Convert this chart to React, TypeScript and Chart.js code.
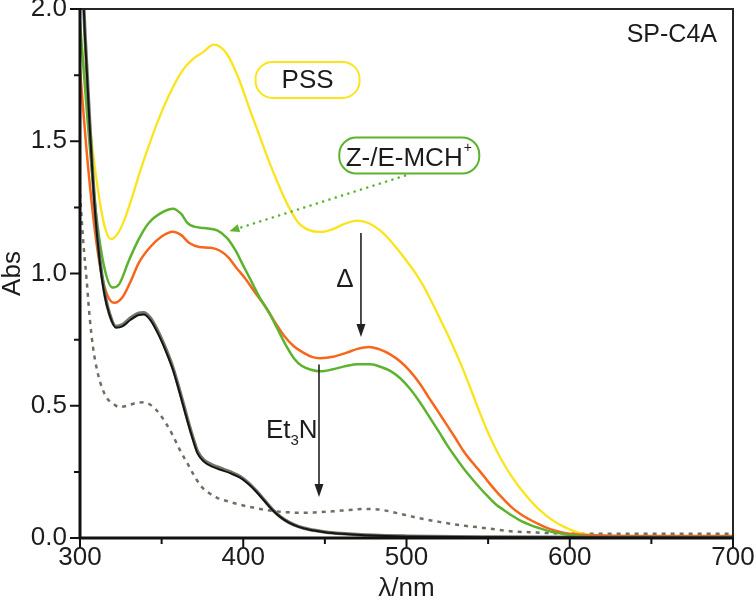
import React, { useEffect, useRef } from 'react';
import { Chart, registerables } from 'chart.js';

Chart.register(...registerables);

const FONT = '"Liberation Sans", Arial, Helvetica, sans-serif';

// ---- axis ticks ----
const xMajorTicks = [300, 400, 500, 600, 700];
const xMinorTicks = [350, 450, 550, 650];
const yMajorTicks = [0, 0.5, 1.0, 1.5, 2.0];
const yMinorTicks = [0.25, 0.75, 1.25, 1.75];

// ---- PSS (yellow) ----
const pssNm = [300, 305, 310, 315, 319, 323, 327, 332, 337, 342, 347, 352, 357, 361, 365, 369, 375, 382, 390, 397, 404, 410, 416, 422, 428, 434, 440, 447, 455, 463, 470, 477, 484, 490, 495, 500, 505, 510, 515, 520, 525, 530, 535, 540, 545, 550, 555, 560, 565, 570, 576, 581, 586, 591, 596, 601, 606, 615, 626, 640, 700];
const pssAbs = [1.93, 1.62, 1.36, 1.18, 1.13, 1.15, 1.2, 1.29, 1.39, 1.48, 1.565, 1.64, 1.705, 1.75, 1.785, 1.81, 1.835, 1.865, 1.83, 1.74, 1.62, 1.52, 1.42, 1.33, 1.25, 1.19, 1.165, 1.157, 1.168, 1.19, 1.2, 1.19, 1.162, 1.125, 1.088, 1.048, 1.006, 0.957, 0.898, 0.836, 0.772, 0.704, 0.632, 0.553, 0.472, 0.398, 0.333, 0.276, 0.227, 0.185, 0.141, 0.109, 0.083, 0.061, 0.044, 0.03, 0.019, 0.009, 0.004, 0.002, 0.001];

// ---- Z-/E-MCH+ (green) ----
const mchNm = [300, 305, 310, 315, 320, 324, 330, 336, 342, 350, 357, 362, 366, 370, 376, 384, 390, 395, 400, 405, 410, 416, 421, 426, 431, 436, 441, 447, 455, 463, 470, 478, 485, 490, 496, 502, 508, 514, 520, 525, 530, 535, 540, 545, 550, 555, 560, 565, 570, 576, 581, 586, 591, 596, 606, 615, 630, 700];
const mchAbs = [1.95, 1.55, 1.22, 1.02, 0.947, 0.96, 1.05, 1.13, 1.19, 1.23, 1.245, 1.225, 1.19, 1.177, 1.172, 1.163, 1.135, 1.09, 1.03, 0.97, 0.91, 0.85, 0.79, 0.73, 0.68, 0.65, 0.637, 0.63, 0.638, 0.65, 0.657, 0.657, 0.645, 0.632, 0.605, 0.565, 0.515, 0.458, 0.4, 0.35, 0.305, 0.263, 0.225, 0.189, 0.156, 0.126, 0.104, 0.083, 0.065, 0.049, 0.038, 0.028, 0.021, 0.015, 0.008, 0.004, 0.002, 0.0];

// ---- after heating (orange) ----
const heatNm = [300, 305, 310, 315, 321, 326, 331, 336, 343, 350, 357, 362, 367, 373, 380, 386, 391, 396, 401, 407, 413, 419, 425, 431, 437, 442, 447, 455, 463, 470, 477, 484, 490, 496, 502, 508, 514, 520, 525, 530, 535, 540, 545, 550, 555, 560, 565, 570, 576, 581, 586, 591, 596, 606, 616, 640, 700];
const heatAbs = [1.77, 1.4, 1.12, 0.95, 0.889, 0.91, 0.97, 1.04, 1.1, 1.14, 1.158, 1.145, 1.115, 1.1, 1.097, 1.085, 1.06, 1.02, 0.983, 0.93, 0.88, 0.82, 0.765, 0.725, 0.7, 0.685, 0.68, 0.685, 0.7, 0.715, 0.722, 0.712, 0.694, 0.668, 0.632, 0.585, 0.528, 0.472, 0.425, 0.377, 0.328, 0.288, 0.252, 0.213, 0.176, 0.143, 0.113, 0.09, 0.068, 0.052, 0.038, 0.028, 0.02, 0.013, 0.01, 0.008, 0.008];

// ---- after Et3N (black and grey traces) ----
const baseNm = [300, 303, 306, 309, 312, 315, 318, 322, 326, 331, 336, 339, 343, 348, 353, 357, 361, 365, 369, 372, 376, 381, 386, 392, 398, 403, 408, 413, 418, 423, 428, 434, 440, 450, 460, 480, 500, 550, 600, 700];
const baseAbsBlack = [2.35, 1.9, 1.55, 1.25, 1.05, 0.92, 0.845, 0.795, 0.8, 0.825, 0.843, 0.845, 0.825, 0.77, 0.7, 0.634, 0.55, 0.46, 0.375, 0.32, 0.288, 0.27, 0.258, 0.245, 0.228, 0.205, 0.175, 0.14, 0.105, 0.078, 0.058, 0.042, 0.032, 0.022, 0.016, 0.009, 0.006, 0.003, 0.002, 0.001];
const baseAbsGrey = [2.35, 1.91, 1.56, 1.26, 1.06, 0.93, 0.85, 0.8, 0.806, 0.832, 0.85, 0.852, 0.832, 0.778, 0.708, 0.642, 0.558, 0.468, 0.382, 0.327, 0.294, 0.276, 0.264, 0.25, 0.233, 0.209, 0.178, 0.142, 0.107, 0.079, 0.059, 0.043, 0.033, 0.023, 0.017, 0.01, 0.007, 0.004, 0.003, 0.002];

// ---- dotted trace ----
const dotNm = [300, 302, 304, 306, 308, 311, 314, 317, 320, 324, 329, 334, 339, 344, 348, 353, 357, 361, 366, 370, 374, 379, 384, 390, 398, 406, 413, 420, 428, 436, 445, 455, 465, 475, 483, 490, 497, 504, 512, 520, 528, 536, 545, 555, 565, 575, 586, 596, 606, 620, 640, 670, 700];
const dotAbs = [1.3, 1.12, 0.98, 0.83, 0.72, 0.62, 0.56, 0.525, 0.51, 0.495, 0.5, 0.51, 0.513, 0.5, 0.475, 0.43, 0.386, 0.335, 0.28, 0.235, 0.197, 0.17, 0.152, 0.14, 0.126, 0.115, 0.107, 0.101, 0.097, 0.095, 0.097, 0.101, 0.106, 0.11, 0.108, 0.1, 0.09, 0.08, 0.07, 0.061, 0.053, 0.046, 0.04, 0.032, 0.025, 0.022, 0.019, 0.017, 0.016, 0.016, 0.016, 0.016, 0.016];

// ---- styles ----
const YELLOW = '#fbe41c';
const ORANGE = '#f7661a';
const GREEN = '#5db32f';
const BLACK = '#151515';
const GREYGREEN = '#6f7868';
const DOTTED = '#6c7164';
const INK = '#1c1c1c';

// annotation layout (data coordinates: nm, Abs)
const pssLabel = { x: 439.4, y: 1.732, w: 104, h: 36 };
const mchLabel = { x: 501.7, y: 1.446, w: 140, h: 36 };
const mchArrow = { x1: 499.1, y1: 1.37, x2: 391.5, y2: 1.16 };
const heatArrow = { x: 472.1, y1: 1.153, y2: 0.76 };
const heatText = { x: 462.3, y: 0.975 };
const baseArrow = { x: 446.4, y1: 0.656, y2: 0.155 };
const baseText = { x: 413.9, y: 0.378 };
const sampleText = { x: 690.2, y: 1.902 };

const pts = (xs: number[], ys: number[]) => xs.map((x, i) => ({ x, y: ys[i] }));

function roundRect(ctx: CanvasRenderingContext2D, x: number, y: number, w: number, h: number, r: number) {
  ctx.beginPath();
  ctx.moveTo(x + r, y);
  ctx.arcTo(x + w, y, x + w, y + h, r);
  ctx.arcTo(x + w, y + h, x, y + h, r);
  ctx.arcTo(x, y + h, x, y, r);
  ctx.arcTo(x, y, x + w, y, r);
  ctx.closePath();
}

function arrow(ctx: CanvasRenderingContext2D, x1: number, y1: number, x2: number, y2: number, color: string, width: number, dotted: boolean, headLen: number, headW: number) {
  const ang = Math.atan2(y2 - y1, x2 - x1);
  const bx = x2 - Math.cos(ang) * headLen;
  const by = y2 - Math.sin(ang) * headLen;
  ctx.save();
  ctx.strokeStyle = color;
  ctx.fillStyle = color;
  ctx.lineWidth = width;
  if (dotted) {
    ctx.lineCap = 'round';
    ctx.setLineDash([0.1, 6.5]);
  }
  ctx.beginPath();
  ctx.moveTo(x1, y1);
  ctx.lineTo(bx, by);
  ctx.stroke();
  ctx.setLineDash([]);
  ctx.beginPath();
  ctx.moveTo(x2, y2);
  ctx.lineTo(bx + Math.sin(ang) * headW / 2, by - Math.cos(ang) * headW / 2);
  ctx.lineTo(bx - Math.sin(ang) * headW / 2, by + Math.cos(ang) * headW / 2);
  ctx.closePath();
  ctx.fill();
  ctx.restore();
}

const overlay = {
  id: 'overlay',
  afterDraw(chart: any) {
    const { ctx, chartArea } = chart;
    const { left, right, top, bottom } = chartArea;
    const xs = chart.scales.x;
    const ys = chart.scales.y;
    const X = (v: number) => xs.getPixelForValue(v);
    const Y = (v: number) => ys.getPixelForValue(v);
    ctx.save();

    // frame
    ctx.strokeStyle = '#262626';
    ctx.lineWidth = 2;
    ctx.beginPath();
    ctx.moveTo(left, top);
    ctx.lineTo(right, top);
    ctx.lineTo(right, bottom);
    ctx.stroke();
    ctx.strokeStyle = '#111';
    ctx.lineWidth = 3;
    ctx.beginPath();
    ctx.moveTo(left, top - 1);
    ctx.lineTo(left, bottom);
    ctx.lineTo(right + 1, bottom);
    ctx.stroke();

    // ticks
    ctx.lineWidth = 2;
    ctx.beginPath();
    xMajorTicks.forEach((v) => { ctx.moveTo(X(v), bottom); ctx.lineTo(X(v), bottom + 10); });
    xMinorTicks.forEach((v) => { ctx.moveTo(X(v), bottom); ctx.lineTo(X(v), bottom + 6); });
    yMajorTicks.forEach((v) => { ctx.moveTo(left, Y(v)); ctx.lineTo(left - 10, Y(v)); });
    yMinorTicks.forEach((v) => { ctx.moveTo(left, Y(v)); ctx.lineTo(left - 6, Y(v)); });
    ctx.stroke();

    // x tick labels
    ctx.fillStyle = INK;
    ctx.font = `26px ${FONT}`;
    ctx.textAlign = 'center';
    ctx.textBaseline = 'middle';
    xMajorTicks.forEach((v) => ctx.fillText(String(v), X(v), bottom + 20));

    // axis titles
    ctx.fillText('\u03bb/nm', (left + right) / 2, 589);
    ctx.save();
    ctx.translate(13, (top + bottom) / 2);
    ctx.rotate(-Math.PI / 2);
    ctx.fillText('Abs', 0, 0);
    ctx.restore();

    // sample label
    ctx.font = `25px ${FONT}`;
    ctx.textAlign = 'right';
    ctx.fillText('SP-C4A', X(sampleText.x), Y(sampleText.y));

    // PSS box
    ctx.lineWidth = 2;
    ctx.strokeStyle = YELLOW;
    let cx = X(pssLabel.x);
    let cy = Y(pssLabel.y);
    roundRect(ctx, cx - pssLabel.w / 2, cy - pssLabel.h / 2, pssLabel.w, pssLabel.h, 17);
    ctx.stroke();
    ctx.font = `26px ${FONT}`;
    ctx.textAlign = 'center';
    ctx.fillText('PSS', cx, cy + 1);

    // MCH box
    ctx.strokeStyle = GREEN;
    cx = X(mchLabel.x);
    cy = Y(mchLabel.y);
    roundRect(ctx, cx - mchLabel.w / 2, cy - mchLabel.h / 2, mchLabel.w, mchLabel.h, 17);
    ctx.stroke();
    ctx.font = `26px ${FONT}`;
    const main = 'Z-/E-MCH';
    const mw = ctx.measureText(main).width;
    ctx.font = `14px ${FONT}`;
    const pw = ctx.measureText('+').width;
    const startX = cx - (mw + pw + 2) / 2;
    ctx.textAlign = 'left';
    ctx.textBaseline = 'alphabetic';
    ctx.font = `26px ${FONT}`;
    ctx.fillText(main, startX, cy + 10);
    ctx.font = `14px ${FONT}`;
    ctx.fillText('+', startX + mw + 1, cy - 4);

    // green dotted arrow
    arrow(ctx, X(mchArrow.x1), Y(mchArrow.y1), X(mchArrow.x2), Y(mchArrow.y2), GREEN, 2.5, true, 10, 8);

    // heat arrow + delta
    arrow(ctx, X(heatArrow.x), Y(heatArrow.y1), X(heatArrow.x), Y(heatArrow.y2), '#222', 1.6, false, 13, 9);
    ctx.font = `26px ${FONT}`;
    ctx.textAlign = 'center';
    ctx.textBaseline = 'middle';
    ctx.fillText('\u0394', X(heatText.x), Y(heatText.y));

    // Et3N arrow + label
    arrow(ctx, X(baseArrow.x), Y(baseArrow.y1), X(baseArrow.x), Y(baseArrow.y2), '#222', 1.6, false, 13, 9);
    ctx.textAlign = 'left';
    ctx.textBaseline = 'alphabetic';
    let tx = X(baseText.x);
    const ty = Y(baseText.y);
    ctx.font = `26px ${FONT}`;
    ctx.fillText('Et', tx, ty);
    tx += ctx.measureText('Et').width;
    ctx.font = `15px ${FONT}`;
    ctx.fillText('3', tx, ty + 7);
    tx += ctx.measureText('3').width;
    ctx.font = `26px ${FONT}`;
    ctx.fillText('N', tx, ty);

    ctx.restore();
  },
};

export default function App() {
  const ref = useRef<HTMLCanvasElement>(null);
  useEffect(() => {
    const canvas = ref.current;
    if (!canvas) return;
    const line = (data: { x: number; y: number }[], color: string, width: number, extra: any = {}) => ({
      data,
      borderColor: color,
      borderWidth: width,
      pointRadius: 0,
      fill: false,
      cubicInterpolationMode: 'monotone',
      ...extra,
    });
    const chart = new Chart(canvas, {
      type: 'line',
      data: {
        datasets: [
          line(pts(baseNm, baseAbsBlack), BLACK, 2),
          line(pts(baseNm, baseAbsGrey), GREYGREEN, 3.5),
          line(pts(mchNm, mchAbs), GREEN, 2.5),
          line(pts(heatNm, heatAbs), ORANGE, 2.5),
          line(pts(pssNm, pssAbs), YELLOW, 2.3),
          line(pts(dotNm, dotAbs), DOTTED, 2.5, { borderDash: [4, 5] }),
        ] as any,
      },
      options: {
        responsive: false,
        animation: false,
        devicePixelRatio: 1,
        layout: { padding: { top: 9, right: 23, left: 0, bottom: 0 } },
        plugins: { legend: { display: false }, tooltip: { enabled: false } },
        scales: {
          x: {
            type: 'linear',
            min: 300,
            max: 700,
            grid: { display: false, drawTicks: false },
            border: { display: false },
            ticks: { display: false, stepSize: 100 },
            afterFit: (s: any) => { s.height = 64; s.paddingLeft = 0; s.paddingRight = 0; },
          },
          y: {
            min: 0,
            max: 2,
            grid: { display: false, drawTicks: false },
            border: { display: false },
            ticks: {
              stepSize: 0.5,
              color: INK,
              padding: 13,
              font: { family: FONT, size: 26, lineHeight: 1 },
              callback: (v: any) => Number(v).toFixed(1),
            },
            afterFit: (s: any) => { s.width = 80; s.paddingTop = 0; s.paddingBottom = 0; },
          },
        },
      } as any,
      plugins: [overlay],
    });
    return () => chart.destroy();
  }, []);
  return (
    <div style={{ position: 'absolute', left: 0, top: 0, width: 756, height: 602, background: '#fff' }}>
      <canvas ref={ref} width={756} height={602} style={{ display: 'block' }} />
    </div>
  );
}
